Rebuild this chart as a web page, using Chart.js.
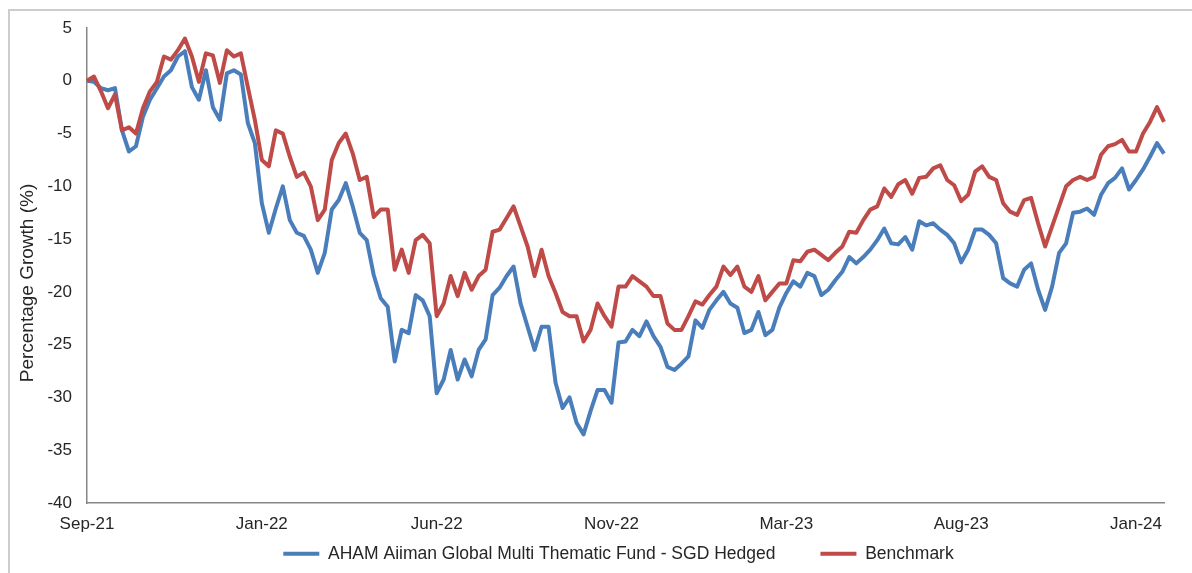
<!DOCTYPE html>
<html>
<head>
<meta charset="utf-8">
<script src="https://cdn.jsdelivr.net/npm/chart.js@4.4.1/dist/chart.umd.min.js"></script>
<style>
    html, body { margin: 0; padding: 0; background: #fff; overflow: hidden; }
    #frame { position: absolute; left: 8px; top: 9px; width: 1300px; height: 700px; border: 2px solid #cdcdcd; }
    #myChart { position: absolute; left: 0; top: 0; }
</style>
</head>
<body>
<div id="frame"></div>
<canvas id="myChart" width="1192" height="573"></canvas>
<script>
// x axis labels, shown every 25 points
const tickLabels = ['Sep-21', 'Jan-22', 'Jun-22', 'Nov-22', 'Mar-23', 'Aug-23', 'Jan-24'];

// percentage growth
const fund = [
    0.0, -0.1, -0.7, -0.9, -0.7, -4.7, -6.7, -6.2, -3.4, -1.8,
    -0.7, 0.4, 1.0, 2.3, 2.8, -0.6, -1.8, 1.0, -2.5, -3.7,
    0.7, 1.0, 0.6, -4.0, -5.9, -11.6, -14.4, -12.1, -10.0, -13.2,
    -14.4, -14.7, -16.0, -18.2, -16.3, -12.2, -11.3, -9.7, -11.9, -14.4,
    -15.1, -18.4, -20.6, -21.4, -26.6, -23.6, -23.9, -20.3, -20.8, -22.3,
    -29.6, -28.3, -25.5, -28.3, -26.4, -28.0, -25.5, -24.5, -20.3, -19.6,
    -18.5, -17.6, -21.1, -23.3, -25.5, -23.3, -23.3, -28.6, -31.0, -30.0,
    -32.4, -33.5, -31.3, -29.3, -29.3, -30.5, -24.8, -24.7, -23.6, -24.2,
    -22.8, -24.2, -25.2, -27.1, -27.4, -26.8, -26.1, -22.7, -23.4, -21.7,
    -20.8, -20.0, -21.1, -21.5, -23.9, -23.6, -21.9, -24.1, -23.6, -21.5,
    -20.1, -19.0, -19.5, -18.2, -18.5, -20.3, -19.8, -18.9, -18.1, -16.7,
    -17.3, -16.7, -16.0, -15.1, -14.0, -15.4, -15.5, -14.8, -16.0, -13.3,
    -13.7, -13.5, -14.1, -14.6, -15.4, -17.2, -16.0, -14.1, -14.1, -14.6,
    -15.4, -18.7, -19.2, -19.5, -17.9, -17.3, -19.8, -21.7, -19.5, -16.3,
    -15.4, -12.5, -12.4, -12.1, -12.7, -10.8, -9.7, -9.2, -8.3, -10.3,
    -9.4, -8.4, -7.2, -5.9, -6.9,
];

const benchmark = [
    0.0, 0.4, -1.0, -2.6, -1.3, -4.7, -4.4, -5.0, -2.6, -1.0,
    -0.1, 2.3, 2.0, 2.9, 4.0, 2.3, -0.1, 2.6, 2.4, -0.2,
    2.9, 2.3, 2.6, -0.6, -3.7, -7.5, -8.1, -4.7, -5.0, -7.2,
    -9.1, -8.7, -10.0, -13.2, -12.2, -7.5, -5.9, -5.0, -6.9, -9.4,
    -9.1, -12.9, -12.2, -12.2, -17.9, -16.0, -18.2, -15.1, -14.6, -15.4,
    -22.3, -21.1, -18.5, -20.4, -18.2, -19.8, -18.5, -17.9, -14.3, -14.1,
    -13.0, -11.9, -13.8, -15.7, -18.5, -16.0, -18.5, -20.1, -21.9, -22.3,
    -22.3, -24.7, -23.6, -21.1, -22.3, -23.3, -19.5, -19.5, -18.5, -19.0,
    -19.5, -20.4, -20.4, -23.0, -23.6, -23.6, -22.3, -20.9, -21.2, -20.3,
    -19.5, -17.6, -18.4, -17.6, -19.5, -20.0, -18.5, -20.8, -20.0, -19.2,
    -19.2, -17.0, -17.1, -16.2, -16.0, -16.5, -17.0, -16.3, -15.7, -14.3,
    -14.4, -13.2, -12.2, -11.9, -10.2, -11.0, -9.8, -9.4, -10.7, -9.2,
    -9.1, -8.3, -8.0, -9.4, -9.9, -11.4, -10.8, -8.6, -8.1, -9.1,
    -9.4, -11.6, -12.4, -12.7, -11.3, -11.1, -13.5, -15.7, -13.8, -11.9,
    -10.0, -9.4, -9.1, -9.4, -9.1, -7.0, -6.2, -6.0, -5.6, -6.7,
    -6.7, -5.0, -3.9, -2.5, -3.9,
];

const yTitle = 'Percentage Growth (%)';
const textColor = '#262626';
const axisColor = '#868686';
const blue = '#4A7EBB';
const red = '#BE4B48';
const fontFamily = '"Liberation Sans", Arial, sans-serif';

// y axis title drawn by hand so it can sit where Excel puts it
const yTitlePlugin = {
    id: 'yTitle',
    afterDraw: (chart) => {
        const c = chart.ctx;
        c.save();
        c.font = '19px ' + fontFamily;
        c.fillStyle = textColor;
        c.translate(28, 283);
        c.rotate(-Math.PI / 2);
        c.textAlign = 'center';
        c.textBaseline = 'middle';
        c.fillText(yTitle, 0, 0);
        c.restore();
    },
};

// the legend padding also sets the gap between items, so pull the row back up
const legendNudge = {
    id: 'legendNudge',
    afterLayout: (chart) => {
        const lg = chart.legend;
        lg.top -= 36;
        lg.bottom -= 36;
        lg.left -= 7;
        lg.right -= 7;
    },
};

const ctx = document.getElementById('myChart');

new Chart(ctx, {
    type: 'line',
    data: {
        labels: fund.map((_, i) => i),
        datasets: [
            {
                label: 'AHAM Aiiman Global Multi Thematic Fund - SGD Hedged',
                data: fund,
                borderColor: blue,
                backgroundColor: blue,
                borderWidth: 4,
                pointRadius: 0,
                tension: 0,
                borderJoinStyle: 'round',
                order: 1,
            },
            {
                label: 'Benchmark',
                data: benchmark,
                borderColor: red,
                backgroundColor: red,
                borderWidth: 4,
                pointRadius: 0,
                tension: 0,
                borderJoinStyle: 'round',
                order: 0,
            },
        ],
    },
    options: {
        responsive: false,
        animation: false,
        events: [],
        layout: {
            padding: { left: 9, right: 28, top: 28, bottom: -35.5 },
        },
        scales: {
            x: {
                grid: { display: false, drawTicks: false },
                border: { display: true, color: axisColor, width: 1.5 },
                afterFit: (s) => { s.height = 33; },
                ticks: {
                    autoSkip: false,
                    maxRotation: 0,
                    padding: 11,
                    color: textColor,
                    font: { family: fontFamily, size: 17 },
                    callback: (val, i) => (i % 25 === 0 ? tickLabels[i / 25] : null),
                },
            },
            y: {
                min: -40,
                max: 5,
                grid: { display: false, drawTicks: false },
                border: { display: true, color: axisColor, width: 1.5 },
                afterFit: (s) => { s.width = 78; },
                ticks: {
                    stepSize: 5,
                    padding: 15,
                    color: textColor,
                    font: { family: fontFamily, size: 17 },
                },
            },
        },
        plugins: {
            tooltip: { enabled: false },
            title: { display: false },
            legend: {
                display: true,
                position: 'bottom',
                fullSize: false,
                labels: {
                    color: textColor,
                    padding: 45,
                    boxWidth: 36,
                    boxHeight: 4,
                    font: { family: fontFamily, size: 17.5 },
                    sort: (a, b) => a.datasetIndex - b.datasetIndex,
                    generateLabels: (chart) =>
                        Chart.defaults.plugins.legend.labels.generateLabels(chart).map((l) => ({
                            ...l,
                            lineWidth: 0,
                        })),
                },
            },
        },
    },
    plugins: [yTitlePlugin, legendNudge],
});
</script>
</body>
</html>
